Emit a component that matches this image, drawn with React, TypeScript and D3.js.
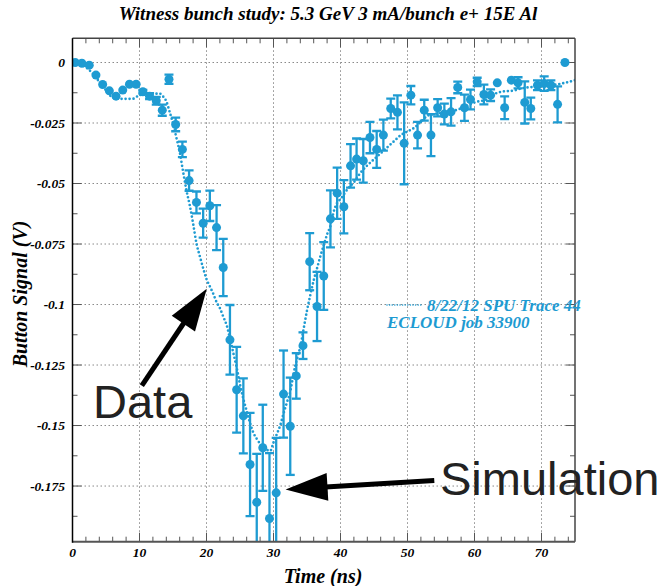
import React from "react";
import * as d3 from "d3";

// Measured trace (dotted line)
const TRACE_T = [0, 1, 2, 3, 4, 5, 6, 7, 8, 9, 10, 11, 12, 13, 13.5, 14, 14.5, 15, 15.5, 16, 16.5, 17, 17.5, 18, 18.5, 19, 19.5, 20, 20.5, 21, 21.5, 22, 22.5, 23, 23.5, 24, 24.5, 25, 25.5, 26, 26.5, 27, 27.5, 28, 28.5, 29, 29.5, 30, 30.5, 31, 31.5, 32, 32.5, 33, 33.5, 34, 34.5, 35, 35.5, 36, 36.5, 37, 37.5, 38, 38.5, 39, 39.5, 40, 41, 42, 43, 44, 45, 46, 47, 48, 49, 50, 51, 52, 53, 54, 56, 58, 60, 62, 63, 64, 66, 67, 70, 73, 75];
const TRACE_V = [0, -0.0005, -0.002, -0.0045, -0.008, -0.0115, -0.0145, -0.015, -0.015, -0.015, -0.0135, -0.0132, -0.013, -0.0128, -0.014, -0.016, -0.0204, -0.0252, -0.031, -0.037, -0.045, -0.0527, -0.059, -0.0665, -0.0747, -0.08, -0.085, -0.0895, -0.0925, -0.0955, -0.099, -0.1015, -0.105, -0.1085, -0.114, -0.12, -0.126, -0.133, -0.139, -0.144, -0.149, -0.153, -0.1555, -0.1575, -0.1588, -0.16, -0.1605, -0.157, -0.1535, -0.15, -0.145, -0.1405, -0.136, -0.1285, -0.1225, -0.1175, -0.11, -0.1025, -0.096, -0.09, -0.085, -0.08, -0.0755, -0.071, -0.0675, -0.0615, -0.058, -0.0565, -0.0525, -0.0495, -0.0455, -0.0425, -0.04, -0.0375, -0.035, -0.0325, -0.03, -0.0285, -0.027, -0.0245, -0.022, -0.0213, -0.0205, -0.019, -0.0165, -0.015, -0.013, -0.0121, -0.0115, -0.0107, -0.0098, -0.0087, -0.0073];

// Simulated points with error bars
const POINT_T = [0.4, 1.4, 2.5, 3.5, 4.5, 5.5, 6.5, 7.5, 8.5, 9.5, 10.5, 11.5, 12.5, 13.4, 14.4, 15.4, 16.4, 17.4, 18.5, 19.5, 20.5, 21.5, 22.5, 23.5, 24.5, 25.5, 26.5, 27.5, 28.4, 29.4, 30.4, 31.5, 32.5, 33.4, 34.4, 35.4, 36.5, 37.5, 38.5, 39.5, 40.5, 41.5, 42.4, 43.4, 44.4, 45.4, 46.4, 47.5, 48.5, 49.5, 50.5, 51.5, 52.5, 53.5, 54.5, 55.5, 56.5, 57.5, 58.5, 59.4, 60.4, 61.4, 62.4, 63.4, 64.5, 65.5, 66.5, 67.5, 68.4, 69.4, 70.4, 71.4, 72.4, 73.5];
const POINT_V = [0, -0.0003, -0.0011, -0.0052, -0.0091, -0.0117, -0.0139, -0.0114, -0.009, -0.009, -0.0121, -0.0139, -0.0158, -0.0197, -0.0069, -0.0256, -0.0359, -0.0488, -0.0578, -0.0664, -0.0592, -0.0682, -0.0847, -0.1146, -0.1352, -0.146, -0.1661, -0.1817, -0.1592, -0.1884, -0.1778, -0.137, -0.1503, -0.1295, -0.117, -0.0823, -0.1008, -0.0882, -0.0646, -0.054, -0.0596, -0.0427, -0.0399, -0.0406, -0.031, -0.0359, -0.03, -0.019, -0.0206, -0.0334, -0.0135, -0.03, -0.0197, -0.03, -0.0187, -0.0213, -0.0204, -0.0103, -0.0187, -0.0153, -0.008, -0.0132, -0.0135, -0.0084, -0.0187, -0.0073, -0.0084, -0.0165, -0.019, -0.0094, -0.0087, -0.0094, -0.0173, 0];
const POINT_ERR = [0, 0, 0, 0, 0, 0, 0, 0, 0, 0, 0.0008, 0.0012, 0.0016, 0.0023, 0.0019, 0.0028, 0.0032, 0.0042, 0.0045, 0.006, 0.0063, 0.0093, 0.0118, 0.0144, 0.0177, 0.0155, 0.0213, 0.02, 0.0178, 0.027, 0.0227, 0.018, 0.0201, 0.0094, 0.0055, 0.0118, 0.0143, 0.014, 0.0118, 0.0106, 0.011, 0.009, 0.0085, 0.009, 0.0065, 0.0076, 0.0064, 0.0041, 0.007, 0.0169, 0.0038, 0.0055, 0.0043, 0.0087, 0.0036, 0.0043, 0.0057, 0.0024, 0.0054, 0.0041, 0.0017, 0.0041, 0.0024, 0, 0.0047, 0, 0.0023, 0.0087, 0.0045, 0.002, 0.003, 0.002, 0.0074, 0];

const X_TICKS = [0, 10, 20, 30, 40, 50, 60, 70];
const X_MINOR = d3.range(0, 76, 2);
const Y_TICKS = [0, -0.025, -0.05, -0.075, -0.1, -0.125, -0.15, -0.175];
const Y_TICK_LABELS = ["0", "-0.025", "-0.05", "-0.075", "-0.1", "-0.125", "-0.15", "-0.175"];
const Y_MINOR = [-0.0125, -0.0375, -0.0625, -0.0875, -0.1125, -0.1375, -0.1625, -0.1875];

const TITLE = "Witness bunch study: 5.3 GeV 3 mA/bunch e+ 15E Al";
const X_LABEL = "Time (ns)";
const Y_LABEL = "Button Signal (V)";
const LEGEND = ["8/22/12 SPU Trace 44", "ECLOUD job 33900"];

// Annotation arrows in data coordinates: [tailT, tailV, tipT, tipV]
const DATA_ARROW = [10.35, -0.1335, 20.04, -0.0935];
const SIM_ARROW = [54.0, -0.1727, 31.8, -0.1764];

const COLOR = "#1e9bd2";
const SERIF = "'Liberation Serif', 'Times New Roman', serif";
const SANS = "'Liberation Sans', Arial, sans-serif";

const W = 662;
const H = 586;
const left = 72.5, right = 575, top = 38.3, bottom = 541.7;

export default function App() {
  const x = d3.scaleLinear().domain([0, 75]).range([left, right]);
  const y = d3.scaleLinear().domain([0.01, -0.198]).range([top, bottom]);

  const trace = d3
    .line<number>()
    .x((_, i) => x(TRACE_T[i]))
    .y((v) => y(v))
    .curve(d3.curveMonotoneX)(TRACE_V) as string;

  const arrow = (a: number[]) => {
    const x0 = x(a[0]), y0 = y(a[1]), x1 = x(a[2]), y1 = y(a[3]);
    const dx = x1 - x0, dy = y1 - y0;
    const len = Math.hypot(dx, dy);
    const ux = dx / len, uy = dy / len;
    const px = -uy, py = ux;
    const headLen = 42, headHalf = 14;
    const bx = x1 - ux * headLen, by = y1 - uy * headLen;
    const pts = [
      [x1, y1],
      [bx + px * headHalf, by + py * headHalf],
      [bx - px * headHalf, by - py * headHalf],
    ];
    return (
      <g>
        <line x1={x0} y1={y0} x2={bx + ux * 2} y2={by + uy * 2} stroke="#000" strokeWidth={5} />
        <polygon points={pts.map((p) => p.join(",")).join(" ")} fill="#000" />
      </g>
    );
  };

  return (
    <svg
      width={W}
      height={H}
      style={{ position: "absolute", left: 0, top: 0, background: "#fff" }}
    >
      <defs>
        <clipPath id="plot-clip">
          <rect x={left} y={top} width={right - left} height={bottom - top} />
        </clipPath>
      </defs>
      <rect x={0} y={0} width={W} height={H} fill="#fff" />

      {/* grid */}
      <g stroke="#8a8a8a" strokeWidth={1} strokeDasharray="1.5,2.5">
        {X_TICKS.filter((t) => t > 0).map((t) => (
          <line key={"gx" + t} x1={x(t)} x2={x(t)} y1={top} y2={bottom} />
        ))}
        {Y_TICKS.map((t) => (
          <line key={"gy" + t} x1={left} x2={right} y1={y(t)} y2={y(t)} />
        ))}
      </g>

      {/* frame ticks */}
      <g stroke="#555" strokeWidth={1}>
        {X_MINOR.map((t) => {
          const major = t % 10 === 0;
          const l = major ? 9 : 5;
          return (
            <g key={"xt" + t}>
              <line x1={x(t)} x2={x(t)} y1={bottom} y2={bottom - l} />
              <line x1={x(t)} x2={x(t)} y1={top} y2={top + l} />
            </g>
          );
        })}
        {Y_TICKS.map((t) => (
          <g key={"yt" + t}>
            <line x1={left} x2={left + 9} y1={y(t)} y2={y(t)} />
            <line x1={right} x2={right - 9} y1={y(t)} y2={y(t)} />
          </g>
        ))}
        {Y_MINOR.map((t) => (
          <g key={"ym" + t}>
            <line x1={left} x2={left + 5} y1={y(t)} y2={y(t)} />
            <line x1={right} x2={right - 5} y1={y(t)} y2={y(t)} />
          </g>
        ))}
      </g>

      {/* data */}
      <g clipPath="url(#plot-clip)">
        <path
          d={trace}
          fill="none"
          stroke={COLOR}
          strokeWidth={2.7}
          strokeLinecap="round"
          strokeDasharray="0,4"
        />
        {POINT_V.map((v, i) => {
          const cx = x(POINT_T[i]);
          const e = POINT_ERR[i];
          return (
            <g key={"p" + i}>
              {e > 0 && (
                <g stroke={COLOR} strokeWidth={2.3}>
                  <line x1={cx} x2={cx} y1={y(v + e)} y2={y(v - e)} />
                  <line x1={cx - 4.5} x2={cx + 4.5} y1={y(v + e)} y2={y(v + e)} />
                  <line x1={cx - 4.5} x2={cx + 4.5} y1={y(v - e)} y2={y(v - e)} />
                </g>
              )}
              <circle cx={cx} cy={y(v)} r={4.5} fill={COLOR} />
            </g>
          );
        })}
      </g>

      {/* frame */}
      <line x1={left} x2={right} y1={top} y2={top} stroke="#444" strokeWidth={1.5} />
      <line x1={right} x2={right} y1={top} y2={bottom} stroke="#444" strokeWidth={1.5} />
      <line x1={left} x2={right} y1={bottom} y2={bottom} stroke="#555" strokeWidth={2} />
      <line x1={left} x2={left} y1={top} y2={bottom + 1} stroke="#000" strokeWidth={1.5} />

      {/* tick labels */}
      <g fontFamily={SERIF} fontWeight="bold" fontStyle="italic" fontSize={13.5} fill="#000">
        {X_TICKS.map((t) => (
          <text key={"xl" + t} x={x(t)} y={557} textAnchor="middle">
            {t}
          </text>
        ))}
        {Y_TICKS.map((t, i) => (
          <text key={"yl" + t} x={65} y={y(t) + 4.8} textAnchor="end">
            {Y_TICK_LABELS[i]}
          </text>
        ))}
      </g>

      {/* titles */}
      <text
        x={328}
        y={20}
        textAnchor="middle"
        fontFamily={SERIF}
        fontWeight="bold"
        fontStyle="italic"
        fontSize={19}
      >
        {TITLE}
      </text>
      <text
        x={323}
        y={583}
        textAnchor="middle"
        fontFamily={SERIF}
        fontWeight="bold"
        fontStyle="italic"
        fontSize={20}
      >
        {X_LABEL}
      </text>
      <text
        transform={`translate(27, 294) rotate(-90)`}
        textAnchor="middle"
        fontFamily={SERIF}
        fontWeight="bold"
        fontStyle="italic"
        fontSize={20}
      >
        {Y_LABEL}
      </text>

      {/* legend */}
      <g fontFamily={SERIF} fontWeight="bold" fontStyle="italic" fontSize={17} fill={COLOR}>
        <line
          x1={387}
          x2={421}
          y1={305}
          y2={305}
          stroke={COLOR}
          strokeWidth={1.6}
          strokeLinecap="round"
          strokeDasharray="0,2.6"
        />
        <text x={427} y={311}>{LEGEND[0]}</text>
        <text x={387} y={328}>{LEGEND[1]}</text>
      </g>

      {/* annotations */}
      {arrow(DATA_ARROW)}
      {arrow(SIM_ARROW)}
      <text x={93} y={418} fontFamily={SANS} fontSize={47} fill="#222">
        Data
      </text>
      <text x={440} y={495} fontFamily={SANS} fontSize={47} fill="#222">
        Simulation
      </text>
    </svg>
  );
}
